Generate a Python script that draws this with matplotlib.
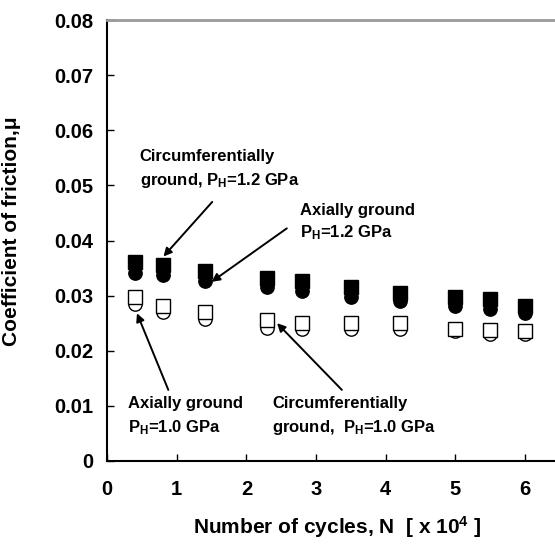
import matplotlib
matplotlib.use('Agg')
import matplotlib.pyplot as plt

plt.rcParams['font.family'] = ['Liberation Sans', 'DejaVu Sans']
plt.rcParams['font.weight'] = 'bold'
plt.rcParams['mathtext.fontset'] = 'custom'
plt.rcParams['mathtext.rm'] = 'Liberation Sans:bold'
plt.rcParams['mathtext.it'] = 'Liberation Sans:bold'
plt.rcParams['mathtext.bf'] = 'Liberation Sans:bold'

# cycles, x 10^4
cycles = [0.4, 0.8, 1.4, 2.3, 2.8, 3.5, 4.2, 5.0, 5.5, 6.0]
# P_H = 1.2 GPa
circ_12 = [0.0361, 0.0356, 0.0345, 0.0332, 0.0327, 0.0316, 0.0305, 0.0297, 0.0293, 0.0281]
axial_12 = [0.0341, 0.0337, 0.0326, 0.0315, 0.0309, 0.0298, 0.0290, 0.0281, 0.0276, 0.0269]
# P_H = 1.0 GPa
circ_10 = [0.0298, 0.0282, 0.0270, 0.0255, 0.0250, 0.0250, 0.0250, 0.0240, 0.0238, 0.0236]
axial_10 = [0.0284, 0.0270, 0.0258, 0.0241, 0.0239, 0.0239, 0.0239, 0.0235, 0.0230, 0.0231]

yticks = [0, 0.01, 0.02, 0.03, 0.04, 0.05, 0.06, 0.07, 0.08]
ytick_labels = ['0', '0.01', '0.02', '0.03', '0.04', '0.05', '0.06', '0.07', '0.08']
xticks = [0, 1, 2, 3, 4, 5, 6]

fig = plt.figure(figsize=(5.55, 5.45), dpi=100)
ax = fig.add_axes([107/555, 84/545, 453/555, 441/545])
ax.set_xlim(0, 6.5)
ax.set_ylim(0, 0.08)

ms = 9.6
ax.plot(cycles, axial_12, 'o', ms=ms, mfc='black', mec='black', mew=1, zorder=3)
ax.plot(cycles, circ_12, 's', ms=ms, mfc='black', mec='black', mew=1, zorder=4)
ax.plot(cycles, axial_10, 'o', ms=ms, mfc='white', mec='black', mew=1, zorder=3)
ax.plot(cycles, circ_10, 's', ms=ms, mfc='white', mec='black', mew=1, zorder=4)

ax.set_yticks(yticks)
ax.set_yticklabels(ytick_labels)
ax.set_xticks(xticks)
ax.tick_params(axis='both', direction='in', length=5, width=1, labelsize=14.5)
ax.tick_params(axis='y', pad=10)
ax.tick_params(axis='x', pad=14)

for s in ['left', 'bottom']:
    ax.spines[s].set_linewidth(1.5)
ax.spines['right'].set_visible(False)
ax.spines['top'].set_color('#999999')
ax.spines['top'].set_linewidth(2)

ax.set_ylabel('Coefficient of friction,\u03bc', fontsize=15, fontweight='bold')
ax.yaxis.set_label_coords(-0.19, 0.52)
fig.text(337/555, 18/545, 'Number of cycles, N  [ x 10$^{4}$ ]', fontsize=15,
         fontweight='bold', ha='center', va='center')

fs = 12
arw = dict(arrowstyle='-|>', color='black', lw=1.4, mutation_scale=12, shrinkA=0, shrinkB=0)

ax.text(0.47, 0.0552, 'Circumferentially', fontsize=fs, fontweight='bold', va='center')
ax.text(0.47, 0.0508, 'ground, P$_{\\mathregular{H}}$=1.2 GPa', fontsize=fs, fontweight='bold', va='center')
ax.annotate('', xy=(0.81, 0.0371), xytext=(1.51, 0.0470), arrowprops=arw)

ax.text(2.77, 0.0455, 'Axially ground', fontsize=fs, fontweight='bold', va='center')
ax.text(2.77, 0.0415, 'P$_{\\mathregular{H}}$=1.2 GPa', fontsize=fs, fontweight='bold', va='center')
ax.annotate('', xy=(1.50, 0.0325), xytext=(2.58, 0.0422), arrowprops=arw)

ax.text(0.30, 0.0105, 'Axially ground', fontsize=fs, fontweight='bold', va='center')
ax.text(0.30, 0.0060, 'P$_{\\mathregular{H}}$=1.0 GPa', fontsize=fs, fontweight='bold', va='center')
ax.annotate('', xy=(0.43, 0.0268), xytext=(0.88, 0.0129), arrowprops=arw)

ax.text(2.37, 0.0105, 'Circumferentially', fontsize=fs, fontweight='bold', va='center')
ax.text(2.37, 0.0060, 'ground,  P$_{\\mathregular{H}}$=1.0 GPa', fontsize=fs, fontweight='bold', va='center')
ax.annotate('', xy=(2.44, 0.0250), xytext=(3.37, 0.0129), arrowprops=arw)

fig.savefig('out.png', dpi=100, facecolor='white')
